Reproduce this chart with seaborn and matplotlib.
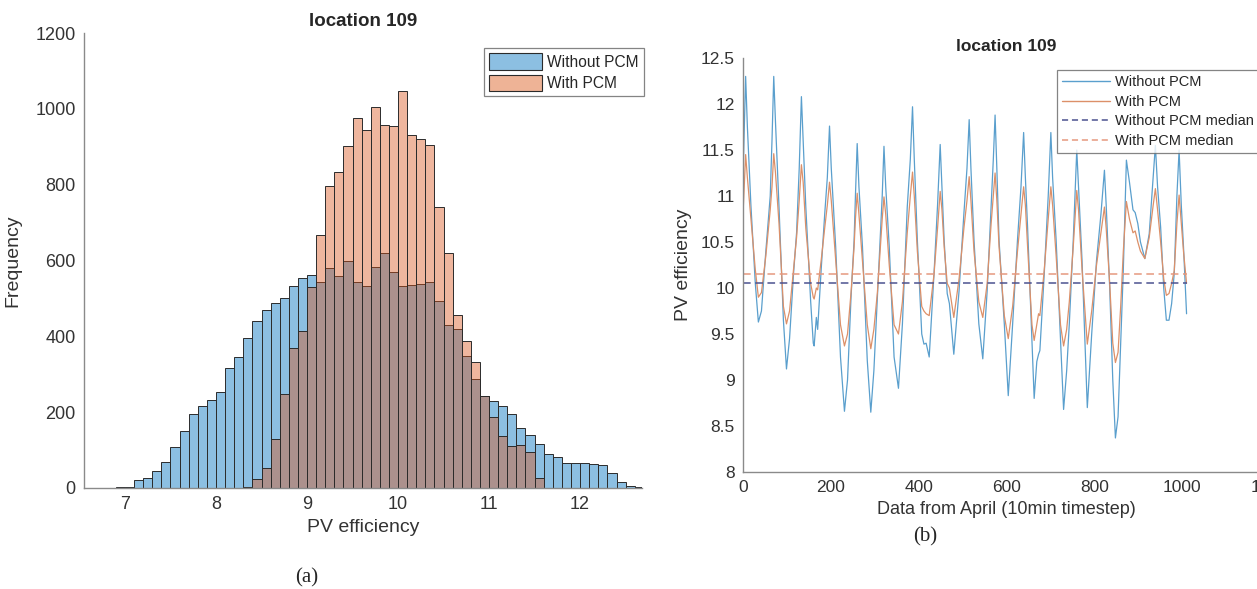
import numpy as np
import pandas as pd
import seaborn as sns
import matplotlib.pyplot as plt
from matplotlib.patches import Patch
from matplotlib.lines import Line2D

# ---- histogram data (bin width 0.1, left edges) ----
bin_left_blue = np.round(np.arange(6.8, 12.65, 0.1), 1)
freq_without_pcm = [1, 2, 3, 20, 27, 44, 68, 107, 151, 194, 215, 231, 252, 317, 346, 395,
                    440, 470, 488, 501, 533, 555, 563, 544, 581, 559, 598, 544, 533, 583,
                    620, 570, 533, 536, 538, 543, 492, 429, 420, 347, 287, 243, 230, 216,
                    194, 157, 140, 117, 90, 82, 66, 65, 67, 63, 61, 40, 16, 5, 2]
bin_left_orange = np.round(np.arange(8.3, 11.55, 0.1), 1)
freq_with_pcm = [3, 24, 53, 128, 248, 370, 414, 530, 667, 797, 834, 902, 976, 944, 1005,
                 957, 954, 1048, 930, 920, 904, 740, 620, 456, 387, 332, 242, 187, 136,
                 110, 114, 96, 26]

# ---- time series key points (index, without PCM, with PCM) ----
t_idx = [0, 6, 10, 18, 28, 35, 42, 52, 62, 66, 70, 74, 82, 92, 99, 106, 115, 122, 128, 133,
         137, 143, 154, 160, 162, 167, 170, 178, 186, 192, 197, 201, 211, 222, 231, 238, 246,
         253, 256, 260, 264, 272, 283, 291, 298, 306, 313, 317, 321, 325, 333, 344, 354, 363,
         374, 381, 386, 390, 397, 407, 412, 417, 424, 435, 443, 449, 453, 458, 465, 470, 480,
         492, 503, 510, 515, 519, 526, 537, 546, 556, 565, 570, 574, 578, 583, 595, 604, 614,
         625, 633, 639, 643, 648, 658, 663, 669, 673, 676, 686, 695, 701, 705, 713, 723, 730,
         737, 743, 752, 756, 760, 764, 772, 784, 794, 805, 815, 823, 827, 835, 842, 848, 854,
         860, 866, 873, 880, 888, 893, 899, 905, 915, 925, 934, 939, 944, 951, 958, 964, 970,
         976, 982, 988, 993, 998, 1003, 1010]
eff_without_pcm = [11.2, 12.3, 11.75, 10.9, 10.05, 9.63, 9.75, 10.4, 11.0, 11.6, 12.3, 11.8,
                   10.88, 9.65, 9.12, 9.45, 10.15, 10.6, 11.3, 12.08, 11.6, 10.88, 9.86, 9.4,
                   9.37, 9.68, 9.55, 10.2, 10.8, 11.2, 11.76, 11.3, 10.45, 9.25, 8.66, 9.0,
                   9.9, 10.52, 11.0, 11.57, 11.1, 10.45, 9.21, 8.65, 9.1, 9.9, 10.59, 11.0,
                   11.54, 11.1, 10.45, 9.25, 8.91, 9.61, 10.88, 11.4, 11.97, 11.4, 10.52, 9.5,
                   9.39, 9.4, 9.25, 10.16, 10.9, 11.56, 11.1, 10.52, 9.94, 9.83, 9.28, 9.97,
                   10.81, 11.3, 11.83, 11.3, 10.52, 9.61, 9.23, 9.97, 10.88, 11.4, 11.88, 11.3,
                   10.52, 9.61, 8.83, 9.61, 10.52, 11.1, 11.69, 11.2, 10.66, 9.43, 8.8, 9.2,
                   9.28, 9.32, 10.16, 11.0, 11.69, 11.2, 10.52, 9.43, 8.68, 9.1, 9.61, 10.52,
                   11.0, 11.5, 11.1, 10.3, 8.7, 9.5, 10.3, 10.8, 11.28, 10.9, 10.0, 9.0, 8.37,
                   8.6, 9.4, 10.2, 11.39, 11.15, 10.85, 10.82, 10.7, 10.5, 10.32, 10.59, 11.2,
                   11.55, 11.1, 10.66, 10.0, 9.65, 9.65, 9.83, 10.16, 11.0, 11.5, 10.9, 10.45,
                   9.72]
eff_with_pcm = [10.8, 11.45, 11.2, 10.75, 10.2, 9.9, 9.95, 10.35, 10.85, 11.1, 11.46, 11.25,
                10.7, 9.8, 9.61, 9.75, 10.2, 10.55, 10.95, 11.34, 11.15, 10.65, 10.05, 9.9,
                9.88, 10.0, 9.98, 10.3, 10.65, 10.9, 11.15, 10.95, 10.3, 9.6, 9.37, 9.5,
                9.95, 10.45, 10.75, 11.03, 10.8, 10.3, 9.6, 9.34, 9.55, 9.95, 10.45, 10.75,
                10.99, 10.8, 10.25, 9.6, 9.5, 9.85, 10.6, 11.0, 11.26, 11.0, 10.4, 9.8, 9.75,
                9.72, 9.7, 10.15, 10.65, 11.05, 10.85, 10.45, 10.05, 10.0, 9.68, 10.1, 10.65,
                10.95, 11.21, 10.95, 10.4, 9.85, 9.68, 10.05, 10.7, 11.0, 11.25, 10.95, 10.45,
                9.7, 9.45, 9.8, 10.4, 10.8, 11.1, 10.9, 10.45, 9.6, 9.43, 9.6, 9.72, 9.7,
                10.2, 10.75, 11.1, 10.9, 10.35, 9.6, 9.37, 9.55, 9.85, 10.45, 10.75, 11.06,
                10.85, 10.2, 9.39, 9.75, 10.25, 10.6, 10.88, 10.65, 10.05, 9.4, 9.19, 9.3,
                9.8, 10.4, 10.94, 10.75, 10.6, 10.62, 10.5, 10.4, 10.32, 10.55, 10.9, 11.08,
                10.85, 10.5, 10.1, 9.92, 9.94, 10.05, 10.19, 10.7, 11.01, 10.7, 10.4, 10.05]
median_without_pcm = 10.05
median_with_pcm = 10.15

hist_blue = pd.DataFrame({"eff": bin_left_blue + 0.05, "freq": freq_without_pcm})
hist_orange = pd.DataFrame({"eff": bin_left_orange + 0.05, "freq": freq_with_pcm})
series = pd.DataFrame({"t": t_idx, "without": eff_without_pcm, "with": eff_with_pcm})
edges_blue = [round(6.8 + 0.1 * i, 1) for i in range(len(freq_without_pcm) + 1)]
edges_orange = [round(8.3 + 0.1 * i, 1) for i in range(len(freq_with_pcm) + 1)]

W, H = 1257, 589
sns.set_style("white")
plt.rcParams['font.family'] = ['Liberation Sans', 'DejaVu Sans']
fig = plt.figure(figsize=(W / 100, H / 100), dpi=100)


def px_axes(x0, x1, ytop, ybot):
    return fig.add_axes([x0 / W, 1 - ybot / H, (x1 - x0) / W, (ybot - ytop) / H])


def style_axes(ax, size):
    sns.despine(ax=ax)
    for s in ['left', 'bottom']:
        ax.spines[s].set_color('#8a8a8a')
        ax.spines[s].set_linewidth(1.0)
    ax.tick_params(direction='in', length=4, width=0.8, color='#8a8a8a',
                   labelsize=size, labelcolor='#333333', pad=6)


# ---- (a) histogram ----
ax1 = px_axes(84, 642, 33, 488)
blue_face = (0.55, 0.75, 0.885)
orange_face = (0.935, 0.70, 0.59)
sns.histplot(data=hist_blue, x="eff", weights="freq", bins=edges_blue, ax=ax1,
             color=blue_face, alpha=1.0, edgecolor='#2b2b2b', linewidth=0.7)
sns.histplot(data=hist_orange, x="eff", weights="freq", bins=edges_orange, ax=ax1,
             color=(0.85, 0.325, 0.098), alpha=0.42, edgecolor='#2b2b2b', linewidth=0.7)
ax1.set_xlim(6.55, 12.68)
ax1.set_ylim(0, 1200)
ax1.set_xticks([7, 8, 9, 10, 11, 12])
ax1.set_yticks(range(0, 1201, 200))
ax1.set_xlabel("PV efficiency", fontsize=14, color='#333333', labelpad=4)
ax1.set_ylabel("Frequency", fontsize=14, color='#333333', labelpad=10)
ax1.set_title("location 109", fontsize=13.5, fontweight='bold', pad=5)
style_axes(ax1, 13)
h1 = [Patch(facecolor=blue_face, edgecolor='#2b2b2b', linewidth=0.8),
      Patch(facecolor=orange_face, edgecolor='#2b2b2b', linewidth=0.8)]
leg1 = ax1.legend(h1, ["Without PCM", "With PCM"], loc='upper left',
                  bbox_to_anchor=(484 / W, 1 - 48 / H), bbox_transform=fig.transFigure,
                  fontsize=11.2, frameon=True, fancybox=False, edgecolor='#666666',
                  handlelength=3.4, handleheight=1.25, handletextpad=0.3,
                  borderpad=0.35, labelspacing=0.3, borderaxespad=0)
leg1.get_frame().set_linewidth(0.9)

# ---- (b) time series ----
ax2 = px_axes(743, 1270, 58, 472)
sns.lineplot(data=series, x="t", y="without", ax=ax2, color='#5a9fcd', lw=0.9)
sns.lineplot(data=series, x="t", y="with", ax=ax2, color='#dc9069', lw=0.9)
ax2.axhline(median_without_pcm, xmin=0, xmax=1010 / 1200, color='#4c5290',
            lw=1.1, ls=(0, (5, 3)))
ax2.axhline(median_with_pcm, xmin=0, xmax=1010 / 1200, color='#e5987f',
            lw=1.1, ls=(0, (5, 3)))
ax2.set_xlim(0, 1200)
ax2.set_ylim(8, 12.5)
ax2.set_xticks(range(0, 1201, 200))
ax2.set_yticks(np.arange(8, 12.51, 0.5))
ax2.set_yticklabels(["8", "8.5", "9", "9.5", "10", "10.5", "11", "11.5", "12", "12.5"])
ax2.set_xlabel("Data from April (10min timestep)", fontsize=13, color='#333333', labelpad=4)
ax2.set_ylabel("PV efficiency", fontsize=14, color='#333333', labelpad=6)
ax2.set_title("location 109", fontsize=12.5, fontweight='bold', pad=5)
style_axes(ax2, 12.5)
h2 = [Line2D([], [], color='#5a9fcd', lw=1.0), Line2D([], [], color='#dc9069', lw=1.0),
      Line2D([], [], color='#4c5290', lw=1.1, ls=(0, (4, 2.5))),
      Line2D([], [], color='#e5987f', lw=1.1, ls=(0, (4, 2.5)))]
leg2 = ax2.legend(h2, ["Without PCM", "With PCM", "Without PCM median", "With PCM median"],
                  loc='upper left', bbox_to_anchor=(1057 / W, 1 - 70 / H),
                  bbox_transform=fig.transFigure, fontsize=10.5, frameon=True,
                  fancybox=False, edgecolor='#666666', handlelength=3.3,
                  handletextpad=0.3, borderpad=0.35, labelspacing=0.38, borderaxespad=0)
leg2.get_frame().set_linewidth(0.9)

fig.text(307 / W, 1 - 578 / H, "(a)", family='Liberation Serif', fontsize=15,
         ha='center', va='center')
fig.text(925 / W, 1 - 537 / H, "(b)", family='Liberation Serif', fontsize=15,
         ha='center', va='center')

fig.savefig("out.png", dpi=100)
plt.close(fig)
